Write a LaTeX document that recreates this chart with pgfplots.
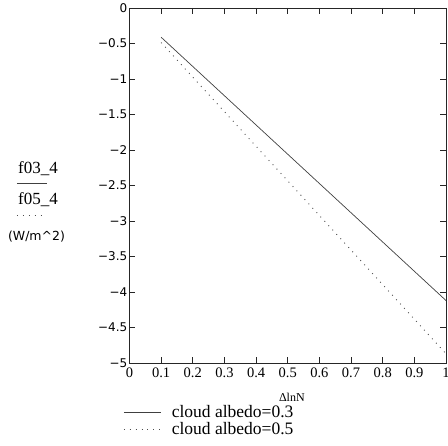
\documentclass[border=0pt]{standalone}
\usepackage{pgfplots}
\pgfplotsset{compat=1.18}
\usepackage{fontspec}
\setmainfont{Liberation Serif}
\newfontfamily\tahoma{DejaVu Sans}

\begin{document}
\begin{tikzpicture}
\path[use as bounding box] (-129.5bp,-83bp) rectangle (318.5bp,363bp);
\begin{axis}[
  at={(0,0)}, anchor=south west,
  scale only axis,
  width=316.5bp, height=355bp,
  xmin=0, xmax=1, ymin=-5, ymax=0,
  xtick={0,0.1,0.2,0.3,0.4,0.5,0.6,0.7,0.8,0.9,1},
  xticklabels={0,0.1,0.2,0.3,0.4,0.5,0.6,0.7,0.8,0.9,1},
  ytick={0,-0.5,-1,-1.5,-2,-2.5,-3,-3.5,-4,-4.5,-5},
  yticklabels={0,−0.5,−1,−1.5,−2,−2.5,−3,−3.5,−4,−4.5,−5},
  major tick length=6bp,
  axis line style={line width=0.8bp, black!85},
  every tick/.style={line width=0.8bp, black!85},
  xticklabel style={font=\fontsize{14.5bp}{16bp}\selectfont, inner sep=1bp, yshift=-4bp},
  yticklabel style={font=\tahoma\fontsize{12bp}{14bp}\selectfont, inner sep=2bp},
  xlabel={ΔlnN},
  xlabel style={at={(axis description cs:0.513,-0.098)}, anchor=center,
    font=\fontsize{12bp}{14bp}\selectfont},
  legend style={at={(axis description cs:-0.02,-0.118)}, anchor=north west,
    draw=none, fill=none, inner sep=0pt,
    font=\fontsize{17.5bp}{18bp}\selectfont,
    nodes={inner sep=0.5bp}, row sep=2.5bp, column sep=10bp},
  legend cell align=left,
  legend image code/.code={\draw[#1] (0bp,0bp) -- (37bp,0bp);},
]
\addplot[line width=0.7bp, black!75] coordinates
  {(0.1,-0.412) (0.4,-1.648) (0.7,-2.884) (1,-4.12)};
\addplot[line width=0.9bp, black!70, dash pattern=on 0.9bp off 5bp] coordinates
  {(0.1,-0.487) (0.4,-1.948) (0.7,-3.409) (1,-4.87)};
\legend{cloud albedo=0.3, cloud albedo=0.5}
\end{axis}
\node[font=\fontsize{17bp}{19bp}\selectfont] at (-91.5bp,194bp) {f03\_4};
\draw[line width=0.7bp, black!75] (-112.5bp,180bp) -- (-82.5bp,180bp);
\node[font=\fontsize{17bp}{19bp}\selectfont] at (-91.5bp,163bp) {f05\_4};
\draw[line width=0.9bp, black!70, dash pattern=on 0.9bp off 5bp] (-112.5bp,148bp) -- (-83.5bp,148bp);
\node[font=\tahoma\fontsize{12.5bp}{14bp}\selectfont] at (-93bp,126bp) {(W/m\^{}2)};
\end{tikzpicture}
\end{document}
